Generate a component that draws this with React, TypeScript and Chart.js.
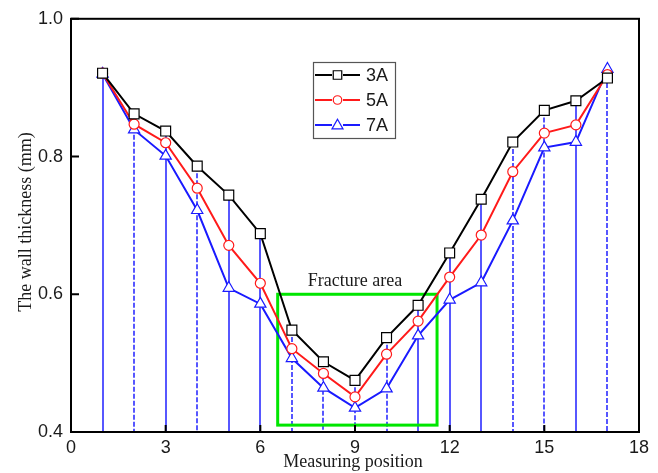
import { useEffect, useRef } from 'react';
import { Chart, registerables } from 'chart.js';

Chart.register(...registerables);

// Measuring positions along the tube wall
const positions = [1, 2, 3, 4, 5, 6, 7, 8, 9, 10, 11, 12, 13, 14, 15, 16, 17];

// Wall thickness (mm) for each current setting
const thickness3A = [0.921, 0.862, 0.837, 0.786, 0.744, 0.688, 0.548, 0.502, 0.475, 0.537, 0.584, 0.660, 0.738, 0.821, 0.867, 0.881, 0.914];
const thickness5A = [0.921, 0.847, 0.820, 0.754, 0.671, 0.616, 0.521, 0.485, 0.451, 0.513, 0.561, 0.625, 0.686, 0.778, 0.834, 0.846, 0.919];
const thickness7A = [0.920, 0.839, 0.801, 0.722, 0.609, 0.586, 0.507, 0.464, 0.435, 0.463, 0.540, 0.592, 0.617, 0.707, 0.813, 0.821, 0.927];

const seriesLabels = ['3A', '5A', '7A'];

// Axis ticks
const xTicks = [0, 3, 6, 9, 12, 15, 18];
const yTicks = [0.4, 0.6, 0.8, 1.0];

// Region marked as the fracture area (x range, y range)
const fractureX = [6.55, 11.6];
const fractureY = [0.41, 0.6];
const fractureLabel = 'Fracture area';

// Drop lines drawn solid at these positions, dashed elsewhere
const solidDropAt = [1, 3, 5, 6, 11, 12, 13, 16];

const SANS = '"Liberation Sans", Arial, sans-serif';
const SERIF = '"Liberation Serif", "Times New Roman", serif';

const COLORS = ['#000000', '#ff1a1a', '#1a1aff'];
const SHAPES = ['rect', 'circle', 'triangle'];
const DROP_COLOR = 'rgb(45, 45, 255)';

function drawMarker(ctx: CanvasRenderingContext2D, shape: string, cx: number, cy: number, size: number, color: string) {
  ctx.save();
  ctx.fillStyle = '#ffffff';
  ctx.strokeStyle = color;
  ctx.lineWidth = 1.2;
  ctx.setLineDash([]);
  ctx.beginPath();
  if (shape === 'rect') {
    ctx.rect(cx - size / 2, cy - size / 2, size, size);
  } else if (shape === 'circle') {
    ctx.arc(cx, cy, size / 2, 0, Math.PI * 2);
  } else {
    const h = size * 0.87;
    ctx.moveTo(cx, cy - h * 0.6);
    ctx.lineTo(cx + size / 2, cy + h * 0.4);
    ctx.lineTo(cx - size / 2, cy + h * 0.4);
    ctx.closePath();
  }
  ctx.fill();
  ctx.stroke();
  ctx.restore();
}

const decorPlugin = {
  id: 'decor',
  beforeDatasetsDraw(chart: any) {
    const { ctx, chartArea } = chart;
    const xs = chart.scales.x;
    const ys = chart.scales.y;

    // vertical drop lines from the highest reading at each position
    positions.forEach((p, i) => {
      const top = Math.max(thickness3A[i], thickness5A[i], thickness7A[i]);
      const px = Math.round(xs.getPixelForValue(p));
      ctx.save();
      ctx.strokeStyle = DROP_COLOR;
      ctx.lineWidth = 1.6;
      ctx.setLineDash(solidDropAt.includes(p) ? [] : [5, 2]);
      ctx.beginPath();
      ctx.moveTo(px, ys.getPixelForValue(top));
      ctx.lineTo(px, chartArea.bottom);
      ctx.stroke();
      ctx.restore();
    });

    ctx.save();
    // fracture area rectangle
    const x0 = xs.getPixelForValue(fractureX[0]);
    const x1 = xs.getPixelForValue(fractureX[1]);
    const y0 = ys.getPixelForValue(fractureY[1]);
    const y1 = ys.getPixelForValue(fractureY[0]);
    ctx.strokeStyle = '#00e600';
    ctx.lineWidth = 3;
    ctx.strokeRect(x0, y0, x1 - x0, y1 - y0);

    ctx.fillStyle = '#1a1a1a';
    ctx.font = `18px ${SERIF}`;
    ctx.textAlign = 'center';
    ctx.textBaseline = 'alphabetic';
    ctx.fillText(fractureLabel, xs.getPixelForValue(9), ys.getPixelForValue(0.612));
    ctx.restore();
  },
  afterDraw(chart: any) {
    const { ctx, chartArea } = chart;
    const xs = chart.scales.x;
    const ys = chart.scales.y;
    const { left, right, top, bottom } = chartArea;
    ctx.save();

    // frame
    ctx.strokeStyle = '#000000';
    ctx.lineWidth = 2;
    ctx.strokeRect(left, top, right - left, bottom - top);

    // inward tick marks
    ctx.lineWidth = 2;
    ctx.beginPath();
    xTicks.forEach((t) => {
      const px = xs.getPixelForValue(t);
      ctx.moveTo(px, bottom);
      ctx.lineTo(px, bottom - 7);
    });
    yTicks.forEach((t) => {
      const py = ys.getPixelForValue(t);
      ctx.moveTo(left, py);
      ctx.lineTo(left + 8, py);
    });
    ctx.stroke();

    // axis titles
    ctx.fillStyle = '#1a1a1a';
    ctx.font = `18px ${SERIF}`;
    ctx.textAlign = 'center';
    ctx.textBaseline = 'alphabetic';
    ctx.fillText('Measuring position', (left + right) / 2 - 2, 467);
    ctx.save();
    ctx.translate(31, 222);
    ctx.rotate(-Math.PI / 2);
    ctx.fillText('The wall thickness (mm)', 0, 0);
    ctx.restore();

    // legend
    const lx = 313;
    const ly = 62;
    ctx.fillStyle = '#ffffff';
    ctx.fillRect(lx, ly, 82, 76);
    ctx.strokeStyle = '#555555';
    ctx.lineWidth = 1.2;
    ctx.strokeRect(lx + 0.5, ly + 0.5, 82, 76);
    seriesLabels.forEach((label, i) => {
      const rowY = 75 + i * 25;
      ctx.strokeStyle = COLORS[i];
      ctx.lineWidth = 2;
      ctx.beginPath();
      ctx.moveTo(315, rowY);
      ctx.lineTo(332, rowY);
      ctx.moveTo(343, rowY);
      ctx.lineTo(360, rowY);
      ctx.stroke();
      drawMarker(ctx, SHAPES[i], 337.5, rowY, i === 2 ? 11 : 8.5, COLORS[i]);
      ctx.fillStyle = '#1a1a1a';
      ctx.font = `18px ${SANS}`;
      ctx.textAlign = 'left';
      ctx.textBaseline = 'middle';
      ctx.fillText(label, 366, rowY + 1);
    });
    ctx.restore();
  },
};

export default function App() {
  const canvasRef = useRef<HTMLCanvasElement | null>(null);

  useEffect(() => {
    const canvas = canvasRef.current;
    if (!canvas) return;

    const series = [thickness3A, thickness5A, thickness7A];
    const radii = [7, 5, 6.5];

    const chart = new Chart(canvas, {
      type: 'line',
      data: {
        datasets: series.map((vals, i) => ({
          label: seriesLabels[i],
          data: positions.map((p, j) => ({ x: p, y: vals[j] })),
          borderColor: COLORS[i],
          borderWidth: 2,
          backgroundColor: '#ffffff',
          pointStyle: SHAPES[i] as any,
          pointRadius: radii[i],
          pointBorderWidth: 1.2,
          pointBorderColor: COLORS[i],
          pointBackgroundColor: '#ffffff',
          tension: 0,
        })),
      },
      options: {
        animation: false,
        responsive: false,
        maintainAspectRatio: false,
        devicePixelRatio: 1,
        layout: { padding: { left: 0, top: 18, right: 19, bottom: 0 } },
        plugins: {
          legend: { display: false },
          tooltip: { enabled: false },
        },
        scales: {
          x: {
            type: 'linear',
            min: 0,
            max: 18,
            afterBuildTicks: (scale: any) => {
              scale.ticks = xTicks.map((v) => ({ value: v }));
            },
            afterFit: (scale: any) => {
              scale.height = 41;
            },
            grid: { display: false, drawTicks: false },
            border: { display: false },
            ticks: {
              autoSkip: false,
              maxRotation: 0,
              padding: 5,
              color: '#1a1a1a',
              font: { family: SANS, size: 18 },
              callback: (v: any) => String(v),
            },
          },
          y: {
            type: 'linear',
            min: 0.4,
            max: 1.0,
            afterBuildTicks: (scale: any) => {
              scale.ticks = yTicks.map((v) => ({ value: v }));
            },
            afterFit: (scale: any) => {
              scale.width = 71;
            },
            grid: { display: false, drawTicks: false },
            border: { display: false },
            ticks: {
              padding: 8,
              color: '#1a1a1a',
              font: { family: SANS, size: 18 },
              callback: (v: any) => Number(v).toFixed(1),
            },
          },
        },
      },
      plugins: [decorPlugin],
    });

    return () => chart.destroy();
  }, []);

  return (
    <div style={{ position: 'absolute', left: 0, top: 0, width: 658, height: 473, background: '#ffffff' }}>
      <canvas ref={canvasRef} width={658} height={473} />
    </div>
  );
}
